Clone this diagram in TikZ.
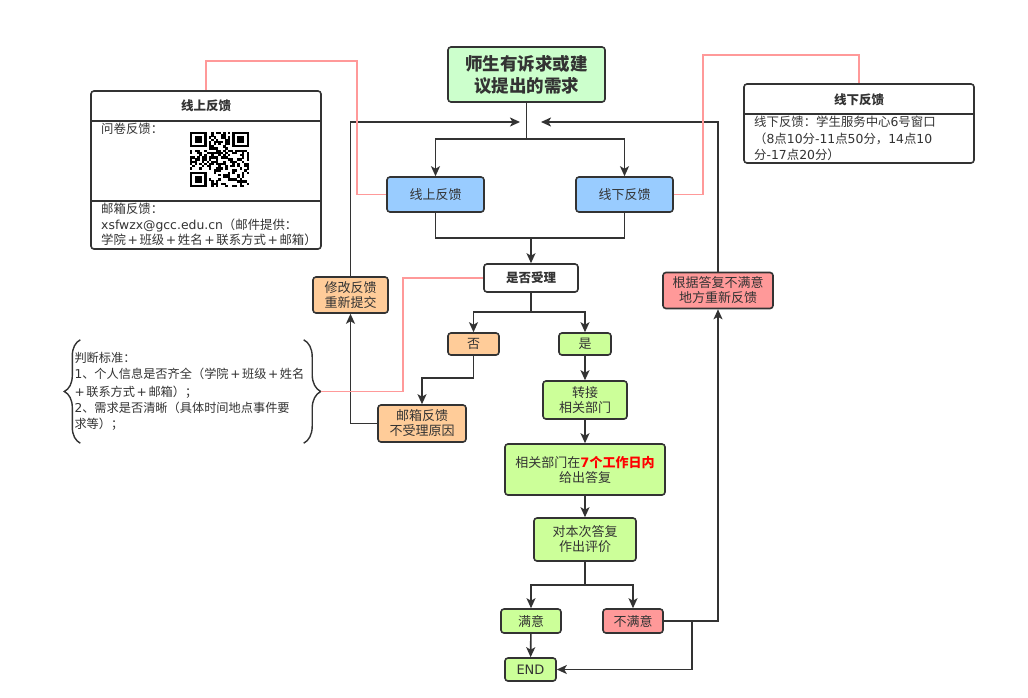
\documentclass[tikz,border=0pt]{standalone}
\usepackage{fontspec}
\setmainfont{Noto Sans CJK SC}
\newfontfamily\latinfont{DejaVu Sans}
\newcommand{\latn}[1]{{\latinfont #1}}
\newcommand{\pls}{\kern1.6pt{\latinfont +}\kern1.6pt}
\usepackage{tikz}
\usetikzlibrary{arrows.meta,decorations.pathreplacing}
\usepackage{xcolor}
\definecolor{ink}{HTML}{333333}
\definecolor{linkpink}{HTML}{FF9999}
\definecolor{startgreen}{HTML}{CCFFCC}
\definecolor{chanblue}{HTML}{99CCFF}
\definecolor{peach}{HTML}{FFCC99}
\definecolor{lime}{HTML}{CCFF99}
\definecolor{salmon}{HTML}{FF9999}
\definecolor{alert}{HTML}{FF0000}

\begin{document}
\begin{tikzpicture}[
  x=1pt, y=-1pt,
  every node/.style={text=ink, font=\fontsize{13}{15}\selectfont},
  box/.style={draw=ink, line width=1.6pt, rounded corners=3pt,
              align=center, inner sep=0pt},
  panel/.style={draw=ink, line width=1.6pt, rounded corners=3pt,
                fill=white, inner sep=0pt},
  wire/.style={draw=ink, line width=1.6pt},
  arrow/.style={wire, -{Stealth[length=10pt,width=9pt,inset=2.5pt]}},
  link/.style={draw=linkpink, line width=1.4pt},
  curly/.style={draw=ink, line width=1.4pt, decorate},
  boldtext/.style={font=\fontsize{12.5}{15}\selectfont\bfseries},
  paneltext/.style={align=left, inner sep=0pt, font=\fontsize{12.4}{15.5}\selectfont},
]
  \path[fill=white] (0,0) rectangle (1028,697);
  \useasboundingbox (0,0) rectangle (1028,697);

  \node[box, fill=startgreen, minimum width=157pt, minimum height=55pt,
        font=\fontsize{17.5}{22}\selectfont\bfseries] (need) at (526.5,74.5)
        {师生有诉求或建\\议提出的需求};
  \node[box, fill=chanblue, minimum width=97pt, minimum height=35pt] (online) at (435.5,194.5) {线上反馈};
  \node[box, fill=chanblue, minimum width=97pt, minimum height=35pt] (offline) at (624.5,194.5) {线下反馈};
  \node[box, boldtext, fill=white, minimum width=94pt, minimum height=28pt]
        (accept) at (531,278) {是否受理};
  \node[box, fill=peach, minimum width=51pt, minimum height=22pt] (no) at (473.5,344) {否};
  \node[box, fill=lime, minimum width=52pt, minimum height=22pt] (yes) at (585,344) {是};
  \node[box, fill=lime, minimum width=84pt, minimum height=38pt] (transfer) at (585,400)
        {转接\\相关部门};
  \node[box, fill=lime, minimum width=160pt, minimum height=51pt] (reply) at (585,469.5)
        {相关部门在{\color{alert}\bfseries\latn{7}个工作日内}\\给出答复};
  \node[box, fill=lime, minimum width=102pt, minimum height=43pt] (rate) at (585,539.5)
        {对本次答复\\作出评价};
  \node[box, fill=lime, minimum width=60pt, minimum height=24pt] (ok) at (531,621) {满意};
  \node[box, fill=salmon, minimum width=60pt, minimum height=24pt] (notok) at (633,621) {不满意};
  \node[box, fill=lime, minimum width=51pt, minimum height=23pt] (finish) at (530.5,669.5) {\latn{END}};
  \node[box, fill=salmon, minimum width=110pt, minimum height=36pt] (redo) at (718,290.5)
        {根据答复不满意\\地方重新反馈};
  \node[box, fill=peach, minimum width=75pt, minimum height=36pt] (resubmit) at (350.5,295)
        {修改反馈\\重新提交};
  \node[box, fill=peach, minimum width=88pt, minimum height=37pt] (reject) at (422,423.5)
        {邮箱反馈\\不受理原因};

  \node[panel, minimum width=230pt, minimum height=158pt] (webbox) at (206,170) {};
  \draw[wire] (webbox.west |- 0,121) -- (webbox.east |- 0,121);
  \draw[wire] (webbox.west |- 0,201) -- (webbox.east |- 0,201);
  \node[boldtext] (webtitle) at (206,106) {线上反馈};
  \node[paneltext, anchor=west] (websurvey) at (101,129) {问卷反馈：};
  \node[paneltext, anchor=north west] (webmail) at (101,203)
        {邮箱反馈：\\\latn{xsfwzx@gcc.edu.cn}（邮件提供：\\学院\pls 班级\pls 姓名\pls 联系方式\pls 邮箱）};
  \begin{scope}[shift={(190,132)}, x=2.36pt, y=-2.2pt]
    \pgfmathsetseed{1234}
    \foreach \i in {0,...,24}{
      \foreach \j in {0,...,24}{
        \pgfmathtruncatemacro\infinder{(\i<8 && \j<8) || (\i>16 && \j<8) || (\i<8 && \j>16)}
        \pgfmathtruncatemacro\bit{rnd<0.5}
        \ifnum\infinder=0 \ifnum\bit=1
          \fill[black] (\i,\j) rectangle ++(1.05,1.05);
        \fi\fi
      }
    }
    \foreach \fx/\fy in {0/0,18/0,0/18}{
      \fill[black] (\fx,\fy) rectangle ++(7,7);
      \fill[white] (\fx+1,\fy+1) rectangle ++(5,5);
      \fill[black] (\fx+2,\fy+2) rectangle ++(3,3);
    }
  \end{scope}

  \node[panel, minimum width=230pt, minimum height=79pt] (deskbox) at (859,123.5) {};
  \draw[wire] (deskbox.west |- 0,114) -- (deskbox.east |- 0,114);
  \node[boldtext] (desktitle) at (859,99.5) {线下反馈};
  \node[paneltext, anchor=north west, font=\fontsize{12.4}{16.5}\selectfont] (deskinfo) at (754,116)
        {线下反馈：学生服务中心\latn{6}号窗口\\（\latn{8}点\latn{10}分\latn{-11}点\latn{50}分，\latn{14}点\latn{10}\\分\latn{-17}点\latn{20}分）};

  \node[paneltext, text width=236pt, minimum height=103pt,
        font=\fontsize{12.2}{16}\selectfont] (rule) at (192.5,391.5)
        {判断标准：\\\latn{1}、个人信息是否齐全（学院\pls 班级\pls 姓名\\\pls 联系方式\pls 邮箱）；\\\latn{2}、需求是否清晰（具体时间地点事件要\\求等）；};
  \draw[curly, decoration={brace, amplitude=16pt}]
    ([xshift=6pt]rule.south west) -- ([xshift=6pt]rule.north west);
  \draw[curly, decoration={brace, amplitude=17pt}]
    ([xshift=-7pt]rule.north east) -- ([xshift=-7pt]rule.south east);
  \coordinate (ruletip) at ([xshift=10pt]rule.east);

  \coordinate (fork) at (526.5,139);
  \coordinate (joinL) at (520,122);
  \coordinate (joinR) at (541,122);
  \coordinate (merge) at (531,238);
  \coordinate (split) at (531,312);
  \coordinate (choice) at (585,585);
  \coordinate (back) at (692,621);
  \coordinate (nodrop) at (473.5,378);

  \draw[wire] (need.south) -- (fork);
  \draw[arrow] (fork) -| (online.north);
  \draw[arrow] (fork) -| (offline.north);
  \draw[wire] (online.south) |- (merge);
  \draw[wire] (offline.south) |- (merge);
  \draw[arrow] (merge) -- (accept.north);
  \draw[wire] (accept.south) -- (split);
  \draw[arrow] (split) -| (no.north);
  \draw[arrow] (split) -| (yes.north);
  \draw[arrow] (yes) -- (transfer);
  \draw[arrow] (transfer) -- (reply);
  \draw[arrow] (reply) -- (rate);
  \draw[wire] (rate.south) -- (choice);
  \draw[arrow] (choice) -| (ok.north);
  \draw[arrow] (choice) -| (notok.north);
  \draw[arrow] (ok) -- (finish);
  \draw[arrow] (notok.east) -| (redo.south);
  \draw[arrow] (back) |- (finish.east);
  \draw[arrow] (redo.north) |- (joinR);
  \draw[arrow] (no.south) -- (nodrop) -| (reject.north);
  \draw[arrow] (reject.west) -| (resubmit.south);
  \draw[arrow] (resubmit.north) |- (joinL);

  \draw[link] (online.west) -| (357,61) -| (webbox.north);
  \draw[link] (offline.east) -| (703,55) -| (deskbox.north);
  \draw[link] (ruletip) -| (403,278) -- (accept.west);
\end{tikzpicture}
\end{document}
